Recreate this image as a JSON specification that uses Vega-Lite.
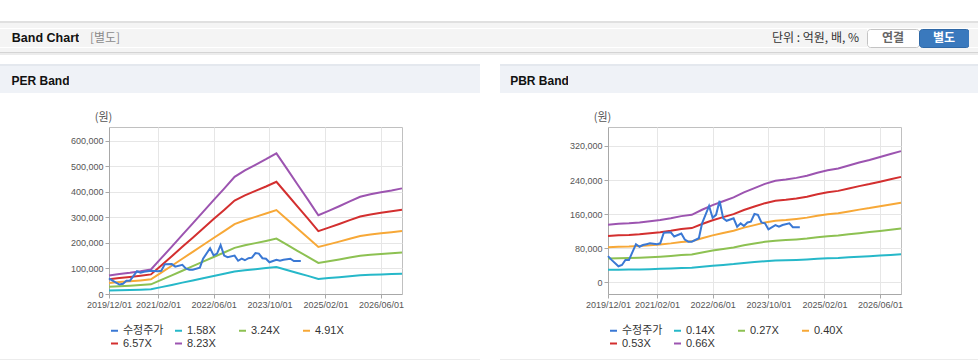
{
"$schema": "https://vega.github.io/schema/vega-lite/v6.json",
"padding": {"top": 21, "left": 0, "right": 0, "bottom": 0},
"autosize": {"type": "pad"},
"background": "#ffffff",
"config": {
  "view": {"stroke": null},
  "concat": {"spacing": 0},
  "axis": {"labelFont": "Liberation Sans", "labelFontSize": 9, "labelColor": "#555555", "tickColor": "#a8a8a8", "tickSize": 4, "domainColor": "#a8a8a8", "gridColor": "#e6e6e6", "labelPadding": 2, "titleFont": "Noto Sans CJK KR", "titleFontWeight": "normal", "titleFontSize": 11, "titleColor": "#555555"},
  "legend": {"labelFont": "Liberation Sans, Noto Sans CJK KR", "labelFontSize": 11, "labelColor": "#333333"}
},
"datasets": {
  "price": [
    {"d":"2019-12-01","수정주가":61000},{"d":"2020-01-01","수정주가":52000},{"d":"2020-03-01","수정주가":37000},{"d":"2020-04-01","수정주가":40000},{"d":"2020-05-01","수정주가":52000},{"d":"2020-06-01","수정주가":52000},{"d":"2020-08-01","수정주가":89000},{"d":"2020-09-01","수정주가":83000},{"d":"2020-10-01","수정주가":87000},{"d":"2020-11-01","수정주가":89000},{"d":"2020-12-01","수정주가":91000},{"d":"2021-02-01","수정주가":89000},{"d":"2021-03-01","수정주가":91000},{"d":"2021-04-01","수정주가":116000},{"d":"2021-06-01","수정주가":117000},{"d":"2021-07-01","수정주가":107000},{"d":"2021-09-01","수정주가":114000},{"d":"2021-10-01","수정주가":100000},{"d":"2021-11-01","수정주가":95000},{"d":"2021-12-01","수정주가":95000},{"d":"2022-02-01","수정주가":103000},{"d":"2022-03-01","수정주가":138000},{"d":"2022-05-01","수정주가":179000},{"d":"2022-06-01","수정주가":151000},{"d":"2022-07-01","수정주가":158000},{"d":"2022-08-01","수정주가":191000},{"d":"2022-09-01","수정주가":150000},{"d":"2022-10-01","수정주가":144000},{"d":"2022-12-01","수정주가":150000},{"d":"2023-01-01","수정주가":130000},{"d":"2023-02-01","수정주가":138000},{"d":"2023-03-01","수정주가":132000},{"d":"2023-04-01","수정주가":140000},{"d":"2023-05-01","수정주가":142000},{"d":"2023-06-01","수정주가":160000},{"d":"2023-07-01","수정주가":158000},{"d":"2023-08-01","수정주가":140000},{"d":"2023-09-01","수정주가":138000},{"d":"2023-10-01","수정주가":124000},{"d":"2023-12-01","수정주가":134000},{"d":"2024-01-01","수정주가":130000},{"d":"2024-02-01","수정주가":134000},{"d":"2024-04-01","수정주가":138000},{"d":"2024-05-01","수정주가":129000},{"d":"2024-07-01","수정주가":129000}
  ],
  "perBands": [
    {"d":"2019-12-01","1_58X":13800,"3_24X":28400,"4_91X":43000,"6_57X":57500,"8_23X":72000},
    {"d":"2020-03-01","1_58X":15000,"3_24X":30700,"4_91X":46600,"6_57X":62200,"8_23X":78000},
    {"d":"2020-06-01","1_58X":15900,"3_24X":32700,"4_91X":49600,"6_57X":66200,"8_23X":83000},
    {"d":"2020-09-01","1_58X":17100,"3_24X":35100,"4_91X":53100,"6_57X":71000,"8_23X":89000},
    {"d":"2020-12-01","1_58X":18400,"3_24X":37800,"4_91X":57300,"6_57X":76600,"8_23X":96000},
    {"d":"2021-03-01","1_58X":26900,"3_24X":55200,"4_91X":83600,"6_57X":111700,"8_23X":140000},
    {"d":"2021-06-01","1_58X":35500,"3_24X":72900,"4_91X":110400,"6_57X":147600,"8_23X":185000},
    {"d":"2021-09-01","1_58X":44400,"3_24X":91000,"4_91X":137900,"6_57X":184300,"8_23X":231000},
    {"d":"2021-12-01","1_58X":53000,"3_24X":108700,"4_91X":164800,"6_57X":220200,"8_23X":276000},
    {"d":"2022-03-01","1_58X":61600,"3_24X":126500,"4_91X":191600,"6_57X":256200,"8_23X":321000},
    {"d":"2022-06-01","1_58X":70500,"3_24X":144600,"4_91X":219100,"6_57X":292900,"8_23X":367000},
    {"d":"2022-09-01","1_58X":79100,"3_24X":162300,"4_91X":246000,"6_57X":328800,"8_23X":412000},
    {"d":"2022-12-01","1_58X":87900,"3_24X":180500,"4_91X":273400,"6_57X":365500,"8_23X":458000},
    {"d":"2023-03-01","1_58X":92700,"3_24X":190300,"4_91X":288400,"6_57X":385400,"8_23X":483000},
    {"d":"2023-06-01","1_58X":97000,"3_24X":199000,"4_91X":301500,"6_57X":403000,"8_23X":505000},
    {"d":"2023-09-01","1_58X":101200,"3_24X":207600,"4_91X":314600,"6_57X":420500,"8_23X":527000},
    {"d":"2023-12-01","1_58X":105600,"3_24X":216700,"4_91X":328400,"6_57X":438900,"8_23X":550000},
    {"d":"2024-03-01","1_58X":94100,"3_24X":193100,"4_91X":292500,"6_57X":391000,"8_23X":490000},
    {"d":"2024-06-01","1_58X":82400,"3_24X":169000,"4_91X":256100,"6_57X":342300,"8_23X":429000},
    {"d":"2024-09-01","1_58X":70800,"3_24X":145400,"4_91X":220300,"6_57X":294500,"8_23X":369000},
    {"d":"2024-12-01","1_58X":59100,"3_24X":121400,"4_91X":183900,"6_57X":245800,"8_23X":308000},
    {"d":"2025-03-01","1_58X":62400,"3_24X":128100,"4_91X":194000,"6_57X":259400,"8_23X":325000},
    {"d":"2025-06-01","1_58X":65900,"3_24X":135100,"4_91X":204800,"6_57X":273700,"8_23X":343000},
    {"d":"2025-09-01","1_58X":69500,"3_24X":142600,"4_91X":216100,"6_57X":288900,"8_23X":362000},
    {"d":"2025-12-01","1_58X":73000,"3_24X":149700,"4_91X":226900,"6_57X":303200,"8_23X":380000},
    {"d":"2026-03-01","1_58X":74900,"3_24X":153700,"4_91X":232800,"6_57X":311200,"8_23X":390000},
    {"d":"2026-06-01","1_58X":76400,"3_24X":156800,"4_91X":237600,"6_57X":317600,"8_23X":398000},
    {"d":"2026-09-01","1_58X":77800,"3_24X":159600,"4_91X":241800,"6_57X":323200,"8_23X":405000},
    {"d":"2026-12-01","1_58X":79300,"3_24X":162700,"4_91X":246600,"6_57X":329600,"8_23X":413000}
  ],
  "pbrBands": [
    {"d":"2019-12-01","0_14X":28600,"0_27X":55200,"0_40X":81800,"0_53X":108400,"0_66X":135000},
    {"d":"2020-03-01","0_14X":29000,"0_27X":56000,"0_40X":83000,"0_53X":110000,"0_66X":137000},
    {"d":"2020-06-01","0_14X":29300,"0_27X":56400,"0_40X":83600,"0_53X":110800,"0_66X":138000},
    {"d":"2020-09-01","0_14X":29700,"0_27X":57300,"0_40X":84800,"0_53X":112400,"0_66X":140000},
    {"d":"2020-12-01","0_14X":30300,"0_27X":58500,"0_40X":86700,"0_53X":114800,"0_66X":143000},
    {"d":"2021-03-01","0_14X":31000,"0_27X":59700,"0_40X":88500,"0_53X":117200,"0_66X":146000},
    {"d":"2021-06-01","0_14X":31800,"0_27X":61400,"0_40X":90900,"0_53X":120500,"0_66X":150000},
    {"d":"2021-09-01","0_14X":32900,"0_27X":63400,"0_40X":93900,"0_53X":124500,"0_66X":155000},
    {"d":"2021-12-01","0_14X":33500,"0_27X":64600,"0_40X":95700,"0_53X":126900,"0_66X":158000},
    {"d":"2022-03-01","0_14X":36000,"0_27X":69500,"0_40X":103000,"0_53X":136500,"0_66X":170000},
    {"d":"2022-06-01","0_14X":38400,"0_27X":74000,"0_40X":109700,"0_53X":145300,"0_66X":181000},
    {"d":"2022-09-01","0_14X":40300,"0_27X":77700,"0_40X":115100,"0_53X":152600,"0_66X":190000},
    {"d":"2022-12-01","0_14X":42200,"0_27X":81400,"0_40X":120600,"0_53X":159800,"0_66X":199000},
    {"d":"2023-03-01","0_14X":44700,"0_27X":86300,"0_40X":127900,"0_53X":169400,"0_66X":211000},
    {"d":"2023-06-01","0_14X":46900,"0_27X":90400,"0_40X":133900,"0_53X":177500,"0_66X":221000},
    {"d":"2023-09-01","0_14X":49000,"0_27X":94500,"0_40X":140000,"0_53X":185500,"0_66X":231000},
    {"d":"2023-12-01","0_14X":50500,"0_27X":97300,"0_40X":144200,"0_53X":191100,"0_66X":238000},
    {"d":"2024-03-01","0_14X":51100,"0_27X":98600,"0_40X":146000,"0_53X":193500,"0_66X":241000},
    {"d":"2024-06-01","0_14X":51900,"0_27X":100200,"0_40X":148500,"0_53X":196700,"0_66X":245000},
    {"d":"2024-09-01","0_14X":53000,"0_27X":102300,"0_40X":151500,"0_53X":200800,"0_66X":250000},
    {"d":"2024-12-01","0_14X":54500,"0_27X":105100,"0_40X":155700,"0_53X":206400,"0_66X":257000},
    {"d":"2025-03-01","0_14X":55800,"0_27X":107600,"0_40X":159400,"0_53X":211200,"0_66X":263000},
    {"d":"2025-06-01","0_14X":56600,"0_27X":109200,"0_40X":161800,"0_53X":214400,"0_66X":267000},
    {"d":"2025-09-01","0_14X":58100,"0_27X":112100,"0_40X":166000,"0_53X":220000,"0_66X":274000},
    {"d":"2025-12-01","0_14X":59600,"0_27X":114900,"0_40X":170300,"0_53X":225600,"0_66X":281000},
    {"d":"2026-03-01","0_14X":60800,"0_27X":117400,"0_40X":173900,"0_53X":230500,"0_66X":287000},
    {"d":"2026-06-01","0_14X":62300,"0_27X":120200,"0_40X":178200,"0_53X":236100,"0_66X":294000},
    {"d":"2026-09-01","0_14X":63800,"0_27X":123100,"0_40X":182400,"0_53X":241700,"0_66X":301000},
    {"d":"2026-12-01","0_14X":65300,"0_27X":126000,"0_40X":186600,"0_53X":247300,"0_66X":308000}
  ]
},
"spacing": 9,
"vconcat": [
  {"spacing": 0, "vconcat": [
    {"width": 978, "height": 2, "data": {"values": []}, "mark": "point", "view": {"fill": "#e0e0e0", "stroke": null}},
    {"width": 978, "height": 5, "data": {"values": []}, "mark": "point", "view": {"fill": "#f4f4f4", "stroke": null}},
    {"bounds": "flush", "spacing": 0, "hconcat": [
      {"width": 12, "height": 18, "data": {"values": []}, "mark": "point", "view": {"fill": "#f4f4f4", "stroke": null}},
      {"width": 67, "height": 18, "data": {"values": [{"t": "Band Chart"}]}, "mark": {"type": "text", "font": "Liberation Sans", "fontSize": 12.5, "fontWeight": "bold", "fill": "#111111", "align": "center", "baseline": "middle"}, "encoding": {"text": {"field": "t"}}, "view": {"fill": "#f4f4f4", "stroke": null}},
      {"width": 10, "height": 18, "data": {"values": []}, "mark": "point", "view": {"fill": "#f4f4f4", "stroke": null}},
      {"width": 32, "height": 18, "data": {"values": [{"t": "[별도]"}]}, "mark": {"type": "text", "font": "Noto Sans CJK KR", "fontSize": 12, "fill": "#8a8a8a", "align": "center", "baseline": "middle"}, "encoding": {"text": {"field": "t"}}, "view": {"fill": "#f4f4f4", "stroke": null}},
      {"width": 647, "height": 18, "data": {"values": []}, "mark": "point", "view": {"fill": "#f4f4f4", "stroke": null}},
      {"width": 95, "height": 18, "data": {"values": [{"t": "단위 : 억원, 배, %"}]}, "mark": {"type": "text", "font": "Noto Sans CJK KR", "fontSize": 12, "fill": "#333333", "align": "center", "baseline": "middle"}, "encoding": {"text": {"field": "t"}}, "view": {"fill": "#f4f4f4", "stroke": null}},
      {"width": 4, "height": 18, "data": {"values": []}, "mark": "point", "view": {"fill": "#f4f4f4", "stroke": null}},
      {"width": 52, "height": 18, "data": {"values": [{"t": "연결"}]}, "mark": {"type": "text", "font": "Noto Sans CJK KR", "fontSize": 12, "fontWeight": "bold", "fill": "#666666", "align": "center", "baseline": "middle"}, "encoding": {"text": {"field": "t"}}, "view": {"fill": "#ffffff", "stroke": "#c4c4c4", "cornerRadius": 3}},
      {"width": 50, "height": 18, "data": {"values": [{"t": "별도"}]}, "mark": {"type": "text", "font": "Noto Sans CJK KR", "fontSize": 12, "fontWeight": "bold", "fill": "#ffffff", "align": "center", "baseline": "middle"}, "encoding": {"text": {"field": "t"}}, "view": {"fill": "#3a79bd", "stroke": "#2f68a6", "cornerRadius": 3}},
      {"width": 9, "height": 18, "data": {"values": []}, "mark": "point", "view": {"fill": "#f4f4f4", "stroke": null}}
    ]},
    {"width": 978, "height": 4, "data": {"values": []}, "mark": "point", "view": {"fill": "#f4f4f4", "stroke": null}},
    {"width": 978, "height": 1, "data": {"values": []}, "mark": "point", "view": {"fill": "#d4d4d4", "stroke": null}},
    {"width": 978, "height": 2, "data": {"values": []}, "mark": "point", "view": {"fill": "#ececec", "stroke": null}}
  ]},
  {"spacing": 20, "hconcat": [
    {"spacing": 0, "vconcat": [
      {"width": 480, "height": 2, "data": {"values": []}, "mark": "point", "view": {"fill": "#e4e8ee", "stroke": null}},
      {"width": 480, "height": 3, "data": {"values": []}, "mark": "point", "view": {"fill": "#eff2f7", "stroke": null}},
      {"bounds": "flush", "spacing": 0, "hconcat": [
        {"width": 12, "height": 24, "data": {"values": []}, "mark": "point", "view": {"fill": "#eff2f7", "stroke": null}},
        {"width": 57, "height": 24, "data": {"values": [{"t": "PER Band"}]}, "mark": {"type": "text", "font": "Liberation Sans", "fontSize": 12, "fontWeight": "bold", "fill": "#111111", "align": "center", "baseline": "middle"}, "encoding": {"text": {"field": "t"}}, "view": {"fill": "#eff2f7", "stroke": null}},
        {"width": 411, "height": 24, "data": {"values": []}, "mark": "point", "view": {"fill": "#eff2f7", "stroke": null}}
      ]},
      {"width": 480, "height": 17, "data": {"values": []}, "mark": "point"},
      {"bounds": "flush", "spacing": 0, "resolve": {"scale": {"color": "independent"}, "legend": {"color": "independent"}}, "hconcat": [
        {"width": 109, "height": 167, "data": {"values": []}, "mark": "point"},
        {"width": 293, "height": 167, "view": {"stroke": "#c0c0c0"},
          "encoding": {
            "x": {"field": "d", "type": "temporal", "scale": {"type": "utc", "domain": [{"year": 2019, "month": 12, "date": 1, "utc": true}, {"year": 2026, "month": 12, "date": 1, "utc": true}]}, "axis": {"values": [{"year": 2019, "month": 12, "date": 1, "utc": true}, {"year": 2021, "month": 2, "date": 1, "utc": true}, {"year": 2022, "month": 6, "date": 1, "utc": true}, {"year": 2023, "month": 10, "date": 1, "utc": true}, {"year": 2025, "month": 2, "date": 1, "utc": true}, {"year": 2026, "month": 6, "date": 1, "utc": true}], "format": "%Y/%m/%d", "title": null, "labelFlush": false, "labelOverlap": false}},
            "y": {"field": "v", "type": "quantitative", "scale": {"domain": [0, 653000], "nice": false, "zero": false}, "axis": {"values": [0, 100000, 200000, 300000, 400000, 500000, 600000], "format": ",d", "title": "(원)", "titleAngle": 0, "titleAlign": "center", "titleBaseline": "middle", "titleX": -6, "titleY": -10}},
            "color": {"field": "s", "type": "nominal", "scale": {"domain": ["수정주가", "1_58X", "3_24X", "4_91X", "6_57X", "8_23X"], "range": ["#3a78d4", "#26b8c9", "#8dc152", "#f7a837", "#d32f2f", "#9c54b0"]}, "legend": {"orient": "bottom", "direction": "horizontal", "columns": 4, "title": null, "symbolType": "stroke", "symbolStrokeWidth": 2, "symbolSize": 49, "gridAlign": "all", "columnPadding": 7, "rowPadding": 1, "labelOffset": 3, "offset": 16, "labelExpr": "replace(datum.label, '_', '.')"}}
          },
          "layer": [
            {"data": {"name": "perBands"}, "transform": [{"fold": ["1_58X", "3_24X", "4_91X", "6_57X", "8_23X"], "as": ["s", "v"]}], "mark": {"type": "line", "strokeWidth": 2}},
            {"data": {"name": "price"}, "transform": [{"fold": ["수정주가"], "as": ["s", "v"]}], "mark": {"type": "line", "strokeWidth": 2}}
          ]
        },
        {"width": 78, "height": 167, "data": {"values": []}, "mark": "point"}
      ]},
      {"width": 480, "height": 9, "data": {"values": []}, "mark": "point"},
      {"width": 480, "height": 1, "data": {"values": []}, "mark": "point", "view": {"fill": "#ececec", "stroke": null}}
    ]},
    {"spacing": 0, "vconcat": [
      {"width": 478, "height": 2, "data": {"values": []}, "mark": "point", "view": {"fill": "#e4e8ee", "stroke": null}},
      {"width": 478, "height": 3, "data": {"values": []}, "mark": "point", "view": {"fill": "#eff2f7", "stroke": null}},
      {"bounds": "flush", "spacing": 0, "hconcat": [
        {"width": 11, "height": 24, "data": {"values": []}, "mark": "point", "view": {"fill": "#eff2f7", "stroke": null}},
        {"width": 57, "height": 24, "data": {"values": [{"t": "PBR Band"}]}, "mark": {"type": "text", "font": "Liberation Sans", "fontSize": 12, "fontWeight": "bold", "fill": "#111111", "align": "center", "baseline": "middle"}, "encoding": {"text": {"field": "t"}}, "view": {"fill": "#eff2f7", "stroke": null}},
        {"width": 410, "height": 24, "data": {"values": []}, "mark": "point", "view": {"fill": "#eff2f7", "stroke": null}}
      ]},
      {"width": 478, "height": 17, "data": {"values": []}, "mark": "point"},
      {"bounds": "flush", "spacing": 0, "resolve": {"scale": {"color": "independent"}, "legend": {"color": "independent"}}, "hconcat": [
        {"width": 108, "height": 167, "data": {"values": []}, "mark": "point"},
        {"width": 293, "height": 167, "view": {"stroke": "#c0c0c0"},
          "encoding": {
            "x": {"field": "d", "type": "temporal", "scale": {"type": "utc", "domain": [{"year": 2019, "month": 12, "date": 1, "utc": true}, {"year": 2026, "month": 12, "date": 1, "utc": true}]}, "axis": {"values": [{"year": 2019, "month": 12, "date": 1, "utc": true}, {"year": 2021, "month": 2, "date": 1, "utc": true}, {"year": 2022, "month": 6, "date": 1, "utc": true}, {"year": 2023, "month": 10, "date": 1, "utc": true}, {"year": 2025, "month": 2, "date": 1, "utc": true}, {"year": 2026, "month": 6, "date": 1, "utc": true}], "format": "%Y/%m/%d", "title": null, "labelFlush": false, "labelOverlap": false}},
            "y": {"field": "v", "type": "quantitative", "scale": {"domain": [-28200, 364700], "nice": false, "zero": false}, "axis": {"values": [0, 80000, 160000, 240000, 320000], "format": ",d", "title": "(원)", "titleAngle": 0, "titleAlign": "center", "titleBaseline": "middle", "titleX": -6, "titleY": -10}},
            "color": {"field": "s", "type": "nominal", "scale": {"domain": ["수정주가", "0_14X", "0_27X", "0_40X", "0_53X", "0_66X"], "range": ["#3a78d4", "#26b8c9", "#8dc152", "#f7a837", "#d32f2f", "#9c54b0"]}, "legend": {"orient": "bottom", "direction": "horizontal", "columns": 4, "title": null, "symbolType": "stroke", "symbolStrokeWidth": 2, "symbolSize": 49, "gridAlign": "all", "columnPadding": 7, "rowPadding": 1, "labelOffset": 3, "offset": 16, "labelExpr": "replace(datum.label, '_', '.')"}}
          },
          "layer": [
            {"data": {"name": "pbrBands"}, "transform": [{"fold": ["0_14X", "0_27X", "0_40X", "0_53X", "0_66X"], "as": ["s", "v"]}], "mark": {"type": "line", "strokeWidth": 2}},
            {"data": {"name": "price"}, "transform": [{"fold": ["수정주가"], "as": ["s", "v"]}], "mark": {"type": "line", "strokeWidth": 2}}
          ]
        },
        {"width": 77, "height": 167, "data": {"values": []}, "mark": "point"}
      ]},
      {"width": 478, "height": 9, "data": {"values": []}, "mark": "point"},
      {"width": 478, "height": 1, "data": {"values": []}, "mark": "point", "view": {"fill": "#ececec", "stroke": null}}
    ]}
  ]}
]
}
